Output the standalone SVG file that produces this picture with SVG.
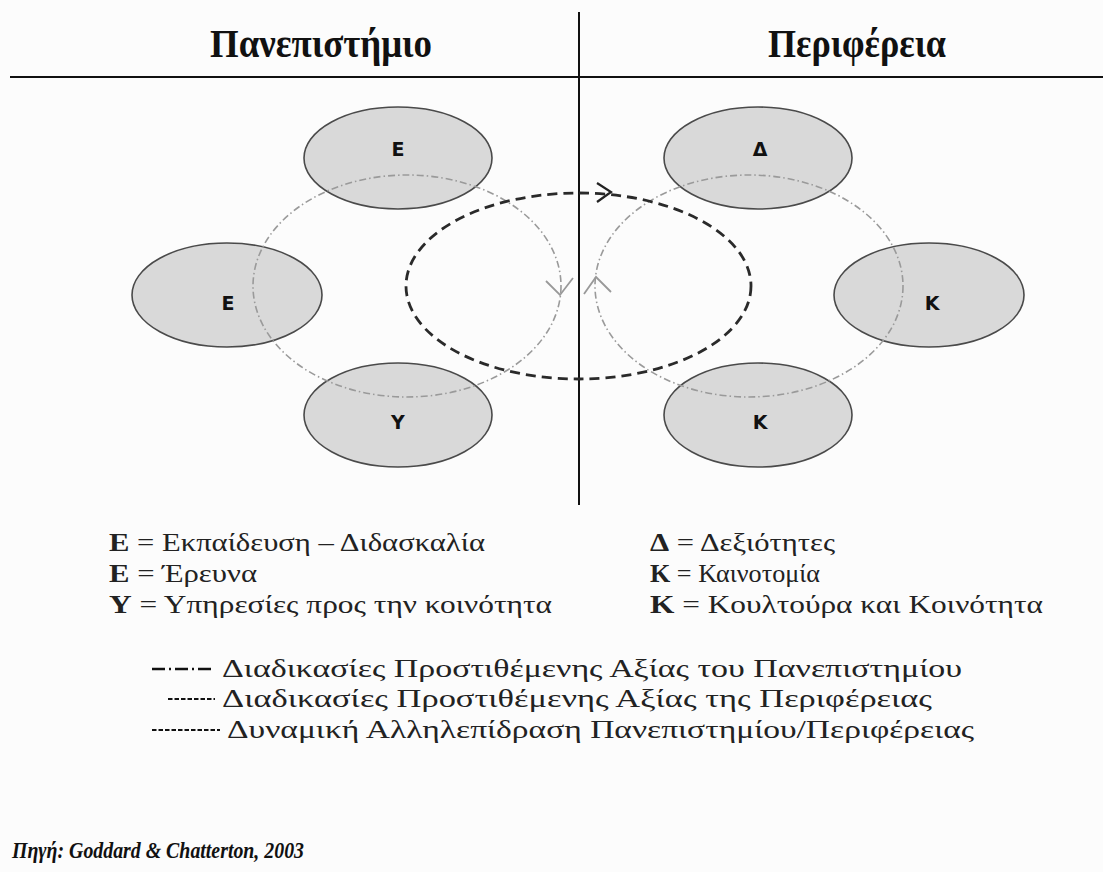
<svg xmlns="http://www.w3.org/2000/svg" width="1103" height="872" viewBox="0 0 1103 872">
<style>
.bg{fill:#fcfcfc}
.node ellipse{fill:#d9d9d9;stroke:#4a4a4a;stroke-width:1.6}
.lbl{font-family:"DejaVu Sans",Verdana,sans-serif;font-weight:bold;font-size:19px;fill:#111;text-anchor:middle}
.title{font-family:"Liberation Serif","DejaVu Serif",serif;font-weight:bold;font-size:40px;fill:#111}
.leg{font-family:"Liberation Serif","DejaVu Serif",serif;font-size:26px;fill:#222}
.src{font-family:"Liberation Serif","DejaVu Serif",serif;font-weight:bold;font-style:italic;font-size:23px;fill:#111}
.dd{fill:none;stroke:#9a9a9a;stroke-width:1.6;stroke-dasharray:7 3 1.5 3}
.dsh{fill:none;stroke:#2a2a2a;stroke-width:2.8;stroke-dasharray:10 6}
.chev{fill:none;stroke:#999;stroke-width:1.8}
.axis{stroke:#111;stroke-width:2}
</style>
<rect class="bg" x="0" y="0" width="1103" height="872"/>

<g id="titles">
<text class="title" x="210" y="57" textLength="222" lengthAdjust="spacingAndGlyphs">Πανεπιστήμιο</text>
<text class="title" x="768" y="57" textLength="178" lengthAdjust="spacingAndGlyphs">Περιφέρεια</text>
</g>

<g id="axes">
<line class="axis" x1="10" y1="77" x2="1103" y2="77"/>
<line class="axis" x1="579" y1="12" x2="579" y2="505"/>
</g>

<g id="node-E1" class="node"><ellipse cx="398" cy="158" rx="94" ry="51"/><text class="lbl" x="398" y="156">Ε</text></g>
<g id="node-E2" class="node"><ellipse cx="227" cy="295" rx="95" ry="52"/><text class="lbl" x="228" y="310">Ε</text></g>
<g id="node-Y" class="node"><ellipse cx="398" cy="415" rx="94" ry="52"/><text class="lbl" x="398" y="429">Υ</text></g>
<g id="node-D" class="node"><ellipse cx="758" cy="158" rx="94" ry="51"/><text class="lbl" x="760" y="156">Δ</text></g>
<g id="node-K1" class="node"><ellipse cx="929" cy="295" rx="95" ry="52"/><text class="lbl" x="932" y="310">Κ</text></g>
<g id="node-K2" class="node"><ellipse cx="758" cy="415" rx="94" ry="52"/><text class="lbl" x="760" y="429">Κ</text></g>

<g id="connectors">
<ellipse class="dd" cx="407" cy="286" rx="154" ry="111"/>
<ellipse class="dd" cx="749" cy="286" rx="154" ry="111"/>
<ellipse class="dsh" cx="578.5" cy="286" rx="172.5" ry="93"/>
<path d="M597,183 L611,192 L597,202" fill="none" stroke="#222" stroke-width="2.2"/>
<path class="chev" d="M546,281 L560,295 L573,278"/>
<path class="chev" d="M584,294 L596,277 L611,292"/>
</g>

<g id="legend">
<text class="leg" x="109" y="551" textLength="376" lengthAdjust="spacingAndGlyphs"><tspan font-weight="bold">Ε</tspan> = Εκπαίδευση – Διδασκαλία</text>
<text class="leg" x="109" y="582" textLength="148" lengthAdjust="spacingAndGlyphs"><tspan font-weight="bold">Ε</tspan> = Έρευνα</text>
<text class="leg" x="109" y="613" textLength="443" lengthAdjust="spacingAndGlyphs"><tspan font-weight="bold">Υ</tspan> = Υπηρεσίες προς την κοινότητα</text>
<text class="leg" x="650" y="551" textLength="185" lengthAdjust="spacingAndGlyphs"><tspan font-weight="bold">Δ</tspan> = Δεξιότητες</text>
<text class="leg" x="650" y="582" textLength="170" lengthAdjust="spacingAndGlyphs"><tspan font-weight="bold">Κ</tspan> = Καινοτομία</text>
<text class="leg" x="650" y="613" textLength="393" lengthAdjust="spacingAndGlyphs"><tspan font-weight="bold">Κ</tspan> = Κουλτούρα και Κοινότητα</text>

<line x1="152" y1="669" x2="215" y2="669" stroke="#111" stroke-width="2.4" stroke-dasharray="13 4 2 4"/>
<line x1="168" y1="699" x2="215" y2="699" stroke="#111" stroke-width="2.2" stroke-dasharray="4.5 2"/>
<line x1="152" y1="730" x2="220" y2="730" stroke="#111" stroke-width="2.2" stroke-dasharray="4.5 2"/>
<text class="leg" x="222" y="677" textLength="740" lengthAdjust="spacingAndGlyphs">Διαδικασίες Προστιθέμενης Αξίας του Πανεπιστημίου</text>
<text class="leg" x="222" y="707" textLength="710" lengthAdjust="spacingAndGlyphs">Διαδικασίες Προστιθέμενης Αξίας της Περιφέρειας</text>
<text class="leg" x="227" y="738" textLength="747" lengthAdjust="spacingAndGlyphs">Δυναμική Αλληλεπίδραση Πανεπιστημίου/Περιφέρειας</text>
</g>

<g id="source">
<text class="src" x="12" y="858" textLength="292" lengthAdjust="spacingAndGlyphs">Πηγή: Goddard &amp; Chatterton, 2003</text>
</g>
</svg>
